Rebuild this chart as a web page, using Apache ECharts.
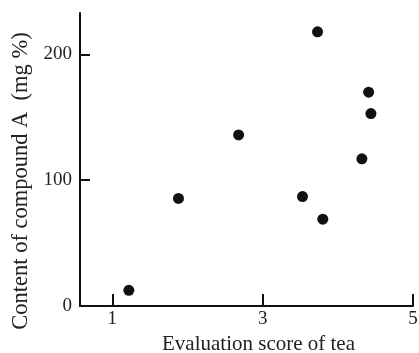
<!DOCTYPE html>
<html><head><meta charset="utf-8">
<script src="https://cdn.jsdelivr.net/npm/echarts@6/dist/echarts.min.js"></script>
<style>html,body{margin:0;padding:0;background:#fff}#c{width:419px;height:353px}</style>
</head><body><div id="c"></div>
<script>
const scores = [1.22, 1.88, 2.68, 3.53, 3.73, 3.80, 4.32, 4.41, 4.44];
const contents = [12.5, 85.5, 136, 87, 218, 69, 117, 170, 153];
const xTicks = [1, 3, 5];
const yTicks = [0, 100, 200];
const xTitle = 'Evaluation score of tea';
const yTitle = 'Content of compound A  (mg %)';

const chart = echarts.init(document.getElementById('c'), null, {renderer: 'canvas'});
const font = 'Liberation Serif';
chart.setOption({
  animation: false,
  backgroundColor: '#fff',
  grid: {left: 80, right: 6, top: 13, bottom: 47, containLabel: false, outerBoundsMode: 'none'},
  xAxis: {
    type: 'value', min: 0.57, max: 5,
    name: xTitle, nameLocation: 'middle', nameGap: 22,
    nameTextStyle: {fontFamily: font, fontSize: 21, color: '#222', padding: [0, 0, 0, 24]},
    axisLine: {lineStyle: {color: '#111', width: 2}},
    axisTick: {inside: true, length: 12, lineStyle: {color: '#111', width: 2}, customValues: xTicks},
    axisLabel: {customValues: xTicks, fontFamily: font, fontSize: 19, color: '#222', margin: 4},
    splitLine: {show: false}
  },
  yAxis: {
    type: 'value', min: 0, max: 233,
    name: yTitle, nameLocation: 'middle', nameGap: 45,
    nameTextStyle: {fontFamily: font, fontSize: 22.5, color: '#222', padding: [0, 43, 0, 0]},
    axisLine: {lineStyle: {color: '#111', width: 2}},
    axisTick: {inside: true, length: 10, lineStyle: {color: '#111', width: 2}, customValues: yTicks},
    axisLabel: {customValues: yTicks, fontFamily: font, fontSize: 19, color: '#222', margin: 8},
    splitLine: {show: false}
  },
  series: [{
    type: 'scatter',
    data: scores.map((s, i) => [s, contents[i]]),
    symbolSize: 11,
    itemStyle: {color: '#111', opacity: 1}
  }]
});
</script></body></html>
